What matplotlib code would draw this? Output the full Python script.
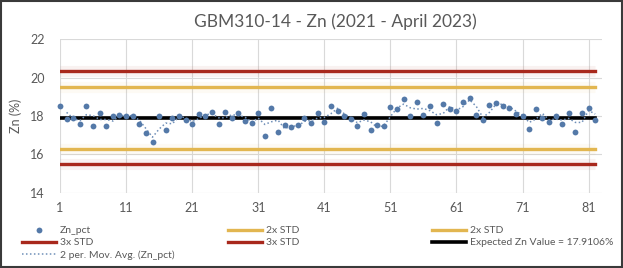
import numpy as np
import pandas as pd
import matplotlib
matplotlib.use('Agg')
import matplotlib.pyplot as plt
from matplotlib.lines import Line2D
from matplotlib.patches import Rectangle

# Data
zn_pct = [18.54, 17.84, 17.91, 17.60, 18.54, 17.49, 18.15, 17.49, 17.98, 18.05,
          18.01, 18.01, 17.56, 17.13, 16.66, 17.98, 17.28, 17.91, 18.01, 17.81,
          17.60, 18.12, 18.01, 18.22, 17.60, 18.22, 17.91, 18.15, 17.74, 17.63,
          18.15, 16.97, 18.43, 17.14, 17.53, 17.42, 17.53, 17.91, 17.63, 18.15,
          17.70, 18.54, 18.26, 17.98, 17.84, 17.46, 18.12, 17.28, 17.53, 17.46,
          18.47, 18.36, 18.88, 17.98, 18.74, 18.05, 18.50, 17.63, 18.64, 18.36,
          18.24, 18.74, 18.95, 18.05, 17.81, 18.57, 18.68, 18.54, 18.43, 18.08,
          18.01, 17.32, 18.36, 17.91, 17.70, 17.98, 17.60, 18.15, 17.18, 18.15,
          18.43, 17.77]
sample_no = list(range(1, len(zn_pct) + 1))

expected_zn = 17.9106
upper_3std = 20.33
upper_2std = 19.53
lower_2std = 16.29
lower_3std = 15.49

x_ticks = [1, 11, 21, 31, 41, 51, 61, 71, 81]
y_ticks = [14, 16, 18, 20, 22]

# Colours
GRAY = '#595959'
GRID = '#D9D9D9'
BLUE = '#5479A8'
DOT = '#6F8FB8'
YELLOW = '#E2B650'
RED = '#A8281C'
BLACK = '#000000'

plt.rcParams['font.family'] = ['Lato', 'DejaVu Sans']

fig = plt.figure(figsize=(6.23, 2.68), dpi=100)
ax = fig.add_axes([0.0963, 0.281, 0.8697, 0.5723])

mov_avg = pd.Series(zn_pct).rolling(2).mean()

line_x = [sample_no[0], sample_no[-1]]

# soft glow under the limit lines
for val, col in [(upper_3std, RED), (lower_3std, RED),
                 (upper_2std, YELLOW), (lower_2std, YELLOW)]:
    ax.plot(line_x, [val, val], color=col, lw=8, alpha=0.06,
            solid_capstyle='butt', zorder=1)

h_2std, = ax.plot(line_x, [upper_2std] * 2, color=YELLOW, lw=2.4, zorder=2)
ax.plot(line_x, [lower_2std] * 2, color=YELLOW, lw=2.4, zorder=2)
h_3std, = ax.plot(line_x, [upper_3std] * 2, color=RED, lw=2.4, zorder=2)
ax.plot(line_x, [lower_3std] * 2, color=RED, lw=2.4, zorder=2)
h_exp, = ax.plot(line_x, [expected_zn] * 2, color=BLACK, lw=2.6, zorder=3)

h_avg, = ax.plot(sample_no, mov_avg, color=DOT, lw=1.1, linestyle=(0, (1, 1.6)), zorder=4)
h_pts, = ax.plot(sample_no, zn_pct, linestyle='none', marker='o', markersize=4.2,
                 color=BLUE, markeredgewidth=0, zorder=5, clip_on=False)

ax.set_xlim(1, 83)
ax.set_ylim(14, 22)
ax.set_xticks(x_ticks)
ax.set_yticks(y_ticks)
ax.grid(True, color=GRID, lw=0.8)
ax.set_axisbelow(True)
for s in ax.spines.values():
    s.set_visible(False)
ax.tick_params(length=0, colors=GRAY, labelsize=9)
ax.tick_params(axis='y', pad=11)
ax.tick_params(axis='x', pad=7)
ax.set_ylabel('Zn (%)', color=GRAY, fontsize=9, labelpad=6)

fig.text(0.538, 0.92, 'GBM310-14 - Zn (2021 - April 2023)', ha='center', va='center',
         color=GRAY, fontsize=12.5)

# Legend in three columns, laid out like the original
leg_kw = dict(loc='upper left', frameon=False, fontsize=7.5, labelcolor=GRAY,
              handlelength=3.3, handletextpad=0.35, labelspacing=0.28,
              borderpad=0, borderaxespad=0, numpoints=1)
fig.legend([h_pts, h_3std, h_avg], ['Zn_pct', '3x STD', '2 per. Mov. Avg. (Zn_pct)'],
           bbox_to_anchor=(0.0353, 0.157), **leg_kw)
fig.legend([h_2std, h_3std], ['2x STD', '3x STD'],
           bbox_to_anchor=(0.366, 0.157), **leg_kw)
fig.legend([h_2std, h_exp], ['2x STD', 'Expected Zn Value = 17.9106%'],
           bbox_to_anchor=(0.693, 0.157), **leg_kw)

# outer frame
fig.patches.append(Rectangle((0.002, 0.004), 0.996, 0.992, transform=fig.transFigure,
                             fill=False, edgecolor='#3A3A3A', lw=1.5))

plt.savefig('out.png', dpi=100)
